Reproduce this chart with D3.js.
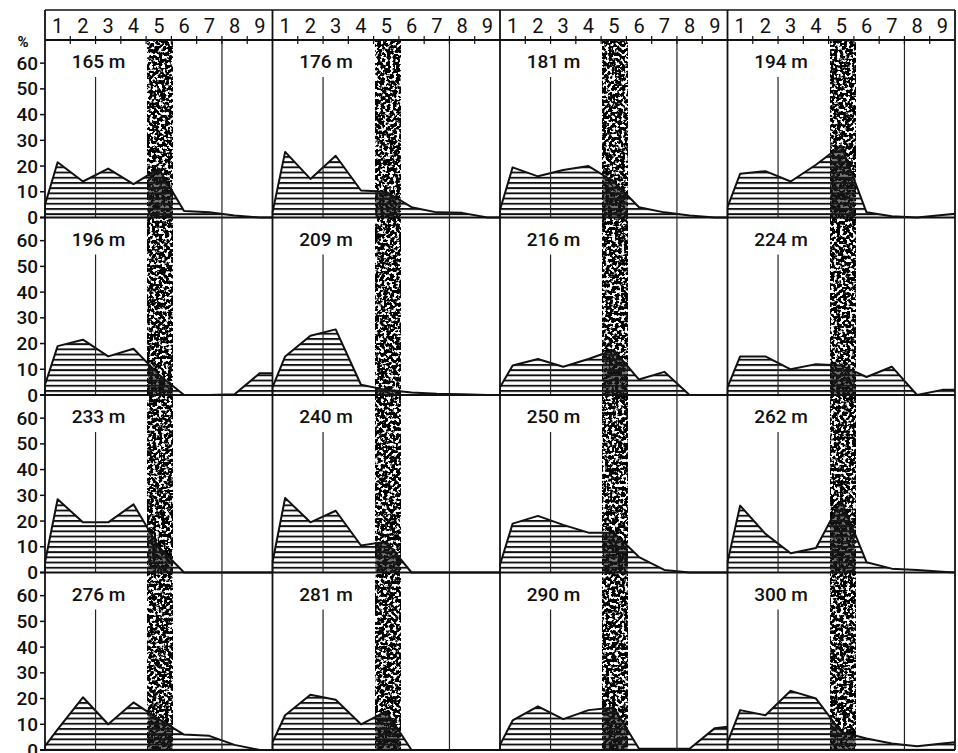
<!DOCTYPE html>
<html>
<head>
<meta charset="utf-8">
<script src="https://cdn.jsdelivr.net/npm/d3@7"></script>
<style>
  body { margin: 0; background: #fff; }
</style>
</head>
<body>
<script>
// grain-size classes 1..9 (header), y ticks in %
const classes = [1, 2, 3, 4, 5, 6, 7, 8, 9];
const yTicks = [0, 10, 20, 30, 40, 50, 60];

// value at left edge, classes 1..9, value at right edge (%)
const s165 = [5, 21.5, 14, 19, 13, 19, 2.5, 2, 0.8, 0, 0];
const s176 = [2, 25.5, 15, 24, 10.5, 10, 4, 2, 1.8, 0, 0];
const s181 = [3, 19.5, 16, 18.5, 20, 14, 4, 2, 0.8, 0, 0];
const s194 = [4, 17, 18, 14, 20.5, 28, 2, 0.5, 0, 1, 1.5];
const s196 = [4, 19, 21.5, 15, 18, 8, 0, 0, 0.3, 8.5, 8.5];
const s209 = [3, 15, 23, 25.5, 4, 2, 1, 0.5, 0.3, 0, 0];
const s216 = [3, 11.5, 14, 11, 14, 17.5, 6, 9, 0, 0, 0];
const s224 = [3, 15, 15, 10, 12, 11.5, 7, 11, 0, 2, 2];
const s233 = [4, 28.5, 19.5, 19.5, 26.5, 10, 0, 0, 0, 0, 0];
const s240 = [4, 29, 19.5, 24, 10.5, 12, 0, 0, 0, 0, 0];
const s250 = [3, 19, 22, 18.5, 15.5, 15.5, 6, 1, 0, 0, 0];
const s262 = [4, 26, 15, 7.5, 9.5, 28, 4, 1.5, 1, 0.3, 0];
const s276 = [1.5, 8, 20.5, 10, 18.5, 12, 6, 5.5, 2, 0, 0];
const s281 = [3, 13.5, 21.5, 19.5, 10, 15, 0, 0, 0, 0, 0];
const s290 = [2, 11.5, 17, 12, 15.5, 16.5, 0.5, 0.5, 0.5, 8.5, 9];
const s300 = [3, 15.5, 13.5, 23, 20, 7, 4.5, 2.5, 1.5, 2.5, 3];

const depths = ["165 m", "176 m", "181 m", "194 m",
                "196 m", "209 m", "216 m", "224 m",
                "233 m", "240 m", "250 m", "262 m",
                "276 m", "281 m", "290 m", "300 m"];
const samples = [s165, s176, s181, s194, s196, s209, s216, s224,
                 s233, s240, s250, s262, s276, s281, s290, s300];

const W = 958, H = 753;
const frameL = 45, frameR = 955, frameT = 10, headB = 40, frameB = 750;
const nCols = 4, nRows = 4;
const colW = (frameR - frameL) / nCols;
const rowH = (frameB - headB) / nRows;
const xPos = [0].concat(classes.map(c => c - 0.5), [9]);
const ink = "#111";

const svg = d3.select("body").append("svg")
    .attr("width", W)
    .attr("height", H)
    .style("font-family", "Roboto, 'DejaVu Sans', sans-serif");

svg.append("rect").attr("width", W).attr("height", H).attr("fill", "#fff");

const defs = svg.append("defs");

const hatch = defs.append("pattern")
    .attr("id", "hatch")
    .attr("patternUnits", "userSpaceOnUse")
    .attr("width", 8)
    .attr("height", 5.2);
hatch.append("rect").attr("width", 8).attr("height", 1.9).attr("fill", ink);

// speckled screen for the class-5 band
const stipple = defs.append("filter")
    .attr("id", "stipple")
    .attr("x", 0).attr("y", 0).attr("width", 1).attr("height", 1)
    .attr("color-interpolation-filters", "sRGB");
stipple.append("feTurbulence")
    .attr("type", "fractalNoise")
    .attr("baseFrequency", 0.32)
    .attr("numOctaves", 2)
    .attr("seed", 11)
    .attr("result", "n");
stipple.append("feColorMatrix")
    .attr("in", "n")
    .attr("type", "matrix")
    .attr("values", "0 0 0 0 0  0 0 0 0 0  0 0 0 0 0  1 0 0 0 0")
    .attr("result", "a");
stipple.append("feComponentTransfer").attr("in", "a")
  .append("feFuncA").attr("type", "linear").attr("slope", 10).attr("intercept", -4.0);

const colX = d3.range(nCols).map(c => d3.scaleLinear().domain([0, 9]).range([frameL + c * colW, frameL + (c + 1) * colW]));
const rowY = d3.range(nRows).map(r => d3.scaleLinear().domain([0, 69]).range([headB + (r + 1) * rowH, headB + r * rowH]));

colX.forEach((x, c) => {
  defs.append("clipPath").attr("id", "band" + c)
    .append("rect")
      .attr("x", x(4.07)).attr("y", headB)
      .attr("width", x(5.05) - x(4.07)).attr("height", frameB - headB);
  svg.append("rect")
      .attr("x", x(4.07)).attr("y", headB)
      .attr("width", x(5.05) - x(4.07)).attr("height", frameB - headB)
      .attr("fill", "#000")
      .attr("filter", "url(#stipple)");
});

// panels
samples.forEach((vals, i) => {
  const c = i % nCols, r = Math.floor(i / nCols);
  const x = colX[c], y = rowY[r];
  const area = d3.area()
      .x((d, j) => x(xPos[j]))
      .y0(y(0))
      .y1(d => y(d));
  const line = d3.line()
      .x((d, j) => x(xPos[j]))
      .y(d => y(d));
  const g = svg.append("g");
  g.append("path").attr("d", area(vals)).attr("fill", "url(#hatch)");
  g.append("path").attr("d", area(vals))
      .attr("fill", "#1a1a1a").attr("fill-opacity", 0.6)
      .attr("clip-path", `url(#band${c})`);
  g.append("path").attr("d", line(vals))
      .attr("fill", "none").attr("stroke", ink).attr("stroke-width", 2)
      .attr("stroke-linejoin", "round");
  g.append("line")
      .attr("x1", x(0)).attr("x2", x(0))
      .attr("y1", y(0)).attr("y2", y(vals[0]))
      .attr("stroke", ink).attr("stroke-width", 1.5);
  // marker line at class boundary 2
  g.append("line")
      .attr("x1", x(2)).attr("x2", x(2))
      .attr("y1", y(0) - rowH + 37).attr("y2", y(0))
      .attr("stroke", "#222").attr("stroke-width", 1.2);
  g.append("text")
      .attr("x", x(2) + 3).attr("y", y(0) - rowH + 28)
      .attr("text-anchor", "middle")
      .attr("font-size", 19)
      .attr("font-weight", 500)
      .attr("fill", ink)
      .text(depths[i]);
});

// frame and grid lines
svg.append("line").attr("x1", frameL).attr("x2", frameR).attr("y1", frameT).attr("y2", frameT)
    .attr("stroke", ink).attr("stroke-width", 1.6);
svg.append("line").attr("x1", frameL).attr("x2", frameR).attr("y1", headB).attr("y2", headB)
    .attr("stroke", ink).attr("stroke-width", 1.8);
rowY.forEach(y => {
  svg.append("line").attr("x1", frameL - 5).attr("x2", frameR).attr("y1", y(0)).attr("y2", y(0))
      .attr("stroke", ink).attr("stroke-width", 2);
});
d3.range(nCols + 1).forEach(c => {
  const xv = frameL + c * colW;
  svg.append("line").attr("x1", xv).attr("x2", xv).attr("y1", frameT).attr("y2", frameB)
      .attr("stroke", ink).attr("stroke-width", 1.8);
});
colX.forEach(x => {
  svg.append("line").attr("x1", x(7)).attr("x2", x(7)).attr("y1", headB).attr("y2", frameB)
      .attr("stroke", "#222").attr("stroke-width", 1.2);
  // header ticks and class numbers
  svg.append("g").selectAll("line")
    .data(d3.range(1, 9))
    .join("line")
      .attr("x1", d => x(d)).attr("x2", d => x(d))
      .attr("y1", headB - 4).attr("y2", headB + 4)
      .attr("stroke", ink).attr("stroke-width", 1.2);
  svg.append("g").selectAll("text")
    .data(classes)
    .join("text")
      .attr("x", d => x(d - 0.5))
      .attr("y", 33)
      .attr("text-anchor", "middle")
      .attr("font-size", 20)
      .attr("fill", ink)
      .text(d => d);
});

// y axes
rowY.forEach(y => {
  const ax = svg.append("g");
  ax.selectAll("line")
    .data(yTicks)
    .join("line")
      .attr("x1", frameL - 5).attr("x2", frameL)
      .attr("y1", d => y(d)).attr("y2", d => y(d))
      .attr("stroke", ink).attr("stroke-width", 1.5);
  ax.selectAll("text")
    .data(yTicks)
    .join("text")
      .attr("x", frameL - 7)
      .attr("y", d => y(d) + 6.5)
      .attr("text-anchor", "end")
      .attr("font-size", 19)
      .attr("font-weight", 500)
      .attr("fill", ink)
      .text(d => d);
});
svg.append("text")
    .attr("x", 23).attr("y", 47)
    .attr("text-anchor", "middle")
    .attr("font-size", 15)
    .attr("font-weight", 700)
    .attr("fill", ink)
    .text("%");
</script>
</body>
</html>
